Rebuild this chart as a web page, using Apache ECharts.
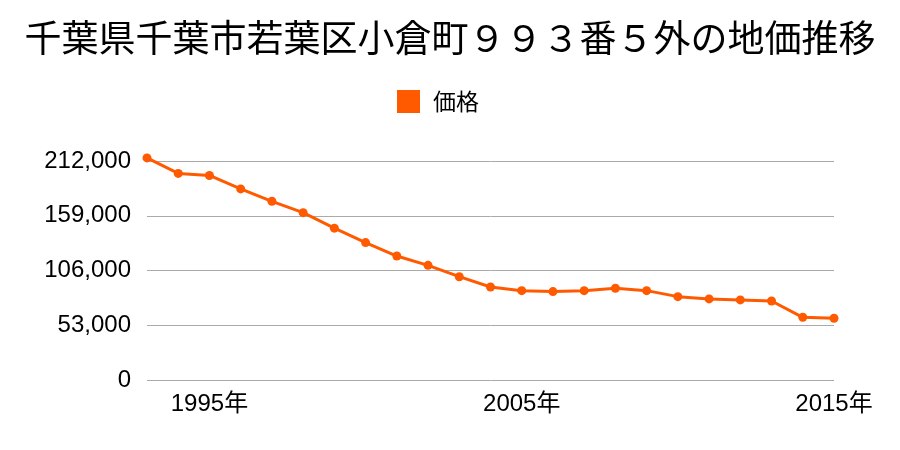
<!DOCTYPE html>
<html><head><meta charset="utf-8">
<script src="https://cdn.jsdelivr.net/npm/echarts@6/dist/echarts.min.js"></script>
<style>html,body{margin:0;padding:0;background:#fff}#c{width:900px;height:450px}</style>
</head><body><div id="c"></div>
<script>
const years = ['1993','1994','1995','1996','1997','1998','1999','2000','2001','2002','2003','2004','2005','2006','2007','2008','2009','2010','2011','2012','2013','2014','2015'];
const prices = [215000,200000,198000,185000,173000,162000,147000,133000,120000,111000,100000,90000,86500,85600,86500,88800,86500,80700,78500,77500,76500,60700,59800];
const yTicks = [0,53000,106000,159000,212000];
const labelYears = ['1995','2005','2015'];
const FONT = '"Noto Sans CJK JP", sans-serif';
const LFONT = '"Liberation Sans", "Noto Sans CJK JP", sans-serif';
const chart = echarts.init(document.getElementById('c'));
chart.setOption({
  animation:false,
  title:{text:'千葉県千葉市若葉区小倉町９９３番５外の地価推移',left:'center',top:14,
    textStyle:{fontFamily:FONT,fontSize:37,fontWeight:'normal',color:'#000'}},
  legend:{top:85,left:392,itemWidth:23,itemHeight:23,itemGap:13,
    textStyle:{fontFamily:FONT,fontSize:23,color:'#000',padding:[0,0,0,8]},
    data:[{name:'価格',icon:'rect'}]},
  grid:{left:147,right:66,top:161,bottom:70},
  xAxis:{type:'category',data:years,boundaryGap:false,
    axisLine:{show:false},axisTick:{show:false},
    axisLabel:{fontFamily:LFONT,fontSize:24,color:'#000',margin:12,
      interval:(i,v)=>labelYears.includes(v),formatter:v=>v+'年'}},
  yAxis:{type:'value',min:0,max:yTicks[yTicks.length-1],interval:53000,
    axisLine:{show:false},axisTick:{show:false},
    splitLine:{lineStyle:{color:'#aaa',width:1}},
    axisLabel:{fontFamily:LFONT,fontSize:24,color:'#000',margin:16,
      formatter:v=>v.toLocaleString('en-US')}},
  series:[{name:'価格',type:'line',data:prices,clip:false,
    color:'#ff5a00',
    lineStyle:{width:3,color:'#ff5a00'},
    symbol:'circle',symbolSize:9,itemStyle:{color:'#ff5a00'}}]
});
</script></body></html>
